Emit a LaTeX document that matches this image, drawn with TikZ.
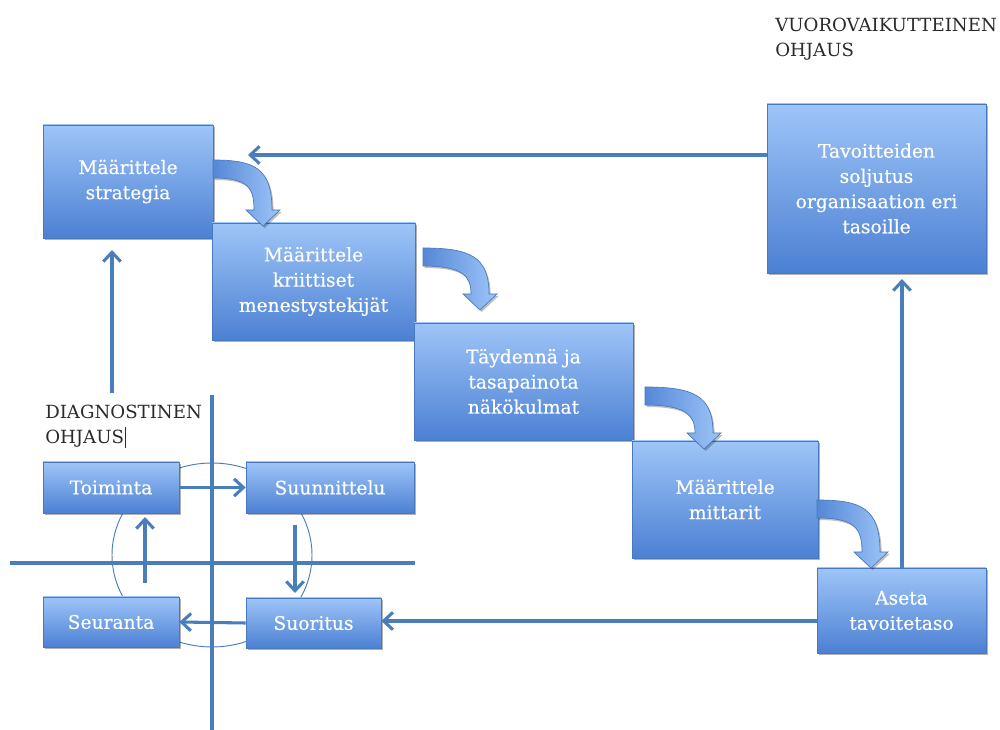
\documentclass[tikz,border=0pt]{standalone}
\usepackage{fontspec}
\setmainfont{DejaVu Serif}
\newfontfamily\boxfont[FakeBold=0.35]{DejaVu Serif}
\usetikzlibrary{arrows.meta,shadows}

\definecolor{linec}{HTML}{4A7EBB}
\definecolor{boxtop}{HTML}{9EC5F8}
\definecolor{boxmid}{HTML}{84B0EE}
\definecolor{boxbot}{HTML}{4C80D3}
\definecolor{boxedge}{HTML}{4A78BC}
\definecolor{labelc}{HTML}{2B2B2B}

\tikzset{
  box/.style={draw=boxedge, line width=0.5pt, top color=boxtop, middle color=boxmid,
    bottom color=boxbot, text=white, align=center, inner sep=1pt,
    font=\boxfont\fontsize{14}{18.9}\selectfont,
    drop shadow={shadow xshift=1.5pt, shadow yshift=-1.8pt, opacity=0.3, fill=black}},
  conn/.style={draw=linec, line width=2.3pt, -{Straight Barb[length=7pt,width=13pt]}},
  quadline/.style={draw=linec, line width=2.3pt},
  ring/.style={draw=linec, line width=0.7pt},
  blockarrow/.style={draw=boxedge, line width=0.5pt, left color=boxbot!85!boxmid, right color=boxtop,
    drop shadow={shadow xshift=1.2pt, shadow yshift=-1.5pt, opacity=0.25, fill=black}},
  heading/.style={text=labelc, align=left, inner sep=0pt, anchor=north west,
    font=\fontsize{13.6}{18.75}\selectfont}
}

% box given by its corners (x1,y1) (x2,y2), y growing downwards
\newcommand\boxnode[6]{%
  \node[box, minimum width={(#4-#2)*0.75pt}, minimum height={(#5-#3)*0.75pt}]
    (#1) at ({(#2+#4)/2},{(#3+#5)/2}) {#6};}

% bent block arrow: start edge at (x,y), outer stem edge at x+w, tip at y+h
\newcommand\bendarrow[4]{%
  \path[blockarrow] (#1,#2) .. controls ({#1+0.7*#3},#2) and ({#1+#3},{#2+8}) .. ({#1+#3},{#2+#4-16})
    -- ({#1+#3+8},{#2+#4-16}) -- ({#1+#3-9},{#2+#4}) -- ({#1+#3-26},{#2+#4-16})
    -- ({#1+#3-18},{#2+#4-16})
    .. controls ({#1+#3-18},{#2+28}) and ({#1+0.6*#3},{#2+18}) .. (#1,{#2+18}) -- cycle;}

\begin{document}
\begin{tikzpicture}[x=0.75pt, y=-0.75pt]
\useasboundingbox (0,0) rectangle (1000,730);
\fill[white] (0,0) rectangle (1000,730);

% headings
\node[heading] (vuoro) at (775,18) {VUOROVAIKUTTEINEN\\OHJAUS};
\node[heading] (diag) at (45,405) {DIAGNOSTINEN\\OHJAUS\hspace{1pt}\rule[-0.25em]{0.5pt}{1.15em}};

% quadrant cross and cycle ring
\draw[ring] (212,555) ellipse [x radius=75pt, y radius=69pt];
\coordinate (vtop) at (212,395);
\coordinate (vbot) at (212,730);
\coordinate (hl) at (10,563);
\coordinate (hr) at (415,563);
\draw[quadline] (vtop) -- (vbot);
\draw[quadline] (hl) -- (hr);

% process boxes
\boxnode{strat}{43}{125}{213}{238}{Määrittele\\strategia}
\boxnode{krit}{212}{223}{415}{340}{Määrittele\\kriittiset\\menestystekijät}
\boxnode{tayd}{414}{323}{633}{440}{Täydennä ja\\tasapainota\\näkökulmat}
\boxnode{mitt}{632}{441}{818}{558}{Määrittele\\mittarit}
\boxnode{aseta}{817}{568}{986}{653}{Aseta\\tavoitetaso}
\boxnode{tavo}{767}{104}{986}{273}{Tavoitteiden\\soljutus\\organisaation eri\\tasoille}

% cycle boxes
\boxnode{toim}{43}{462}{179}{513}{Toiminta}
\boxnode{suun}{246}{462}{414}{513}{Suunnittelu}
\boxnode{seur}{43}{597}{179}{647}{Seuranta}
\boxnode{suor}{246}{598}{381}{648}{Suoritus}

% bent block arrows between the steps
\bendarrow{213}{160}{59}{66}
\bendarrow{423}{248}{66}{62}
\bendarrow{645}{387}{68}{62}
\bendarrow{817}{500}{63}{68}

% feedback connectors
\coordinate (s1) at (248,155);
\draw[conn] (tavo.west |- s1) -- (s1);
\coordinate (a2) at (902,279);
\draw[conn] (a2 |- aseta.north) -- (a2);
\coordinate (a3) at (0,621);
\draw[conn] (aseta.west |- a3) -- (suor.east |- a3);
\coordinate (d0) at (112,393);
\coordinate (d1) at (112,250);
\draw[conn] (d0) -- (d1);

% cycle connectors
\draw[conn] (toim.east) -- (suun.west);
\coordinate (c1) at (295,525);
\coordinate (c2) at (295,593);
\draw[conn] (c1) -- (c2);
\draw[conn] (suor.west) -- (seur.east);
\coordinate (c3) at (145,583);
\coordinate (c4) at (145,517);
\draw[conn] (c3) -- (c4);
\end{tikzpicture}
\end{document}
